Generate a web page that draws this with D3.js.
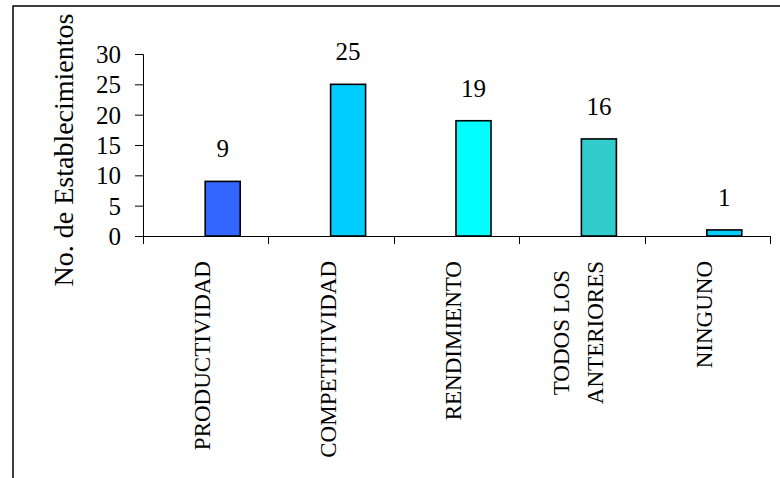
<!DOCTYPE html>
<html>
<head>
<meta charset="utf-8">
<script src="https://cdn.jsdelivr.net/npm/d3@7"></script>
</head>
<body style="margin:0;background:#fff">
<svg id="chart" width="780" height="478" style="display:block"></svg>
<script>
const categories = ["PRODUCTIVIDAD", "COMPETITIVIDAD", "RENDIMIENTO", "TODOS LOS\nANTERIORES", "NINGUNO"];
const values = [9, 25, 19, 16, 1];
const barColors = ["#3366FF", "#00CCFF", "#00FFFF", "#33CCCC", "#00CCFF"];
const yTicks = [0, 5, 10, 15, 20, 25, 30];
const yTitle = "No. de Establecimientos";

const FONT = '"Liberation Serif"';
const svg = d3.select("#chart");

// outer frame (extends past the window on right and bottom)
svg.append("rect")
  .attr("x", 13).attr("y", 6)
  .attr("width", 800).attr("height", 500)
  .attr("fill", "none").attr("stroke", "#000").attr("stroke-width", 1.5);

const x = d3.scaleBand().domain(categories).range([143, 770]).padding(0);
const y = d3.scaleLinear().domain([0, 30]).range([236, 54]);

// y axis
const yAxis = d3.axisLeft(y).tickValues(yTicks).tickSize(8).tickPadding(14);
const gy = svg.append("g").attr("transform", "translate(143,0)").call(yAxis);
gy.attr("font-family", null).attr("font-size", null);
gy.select(".domain").attr("stroke", "#000").attr("stroke-width", 1).attr("d", "M-8,54.5H0.5V236.5");
gy.selectAll(".tick line").attr("stroke", "#000").attr("stroke-width", 1);
gy.selectAll(".tick text").style("font-family", FONT).style("font-size", "25px").attr("fill", "#000").attr("dy", "0.34em");

// x axis line + ticks at band boundaries
const bounds = categories.map(c => x(c)).concat([x.range()[1]]);
svg.append("line")
  .attr("x1", 143).attr("x2", 770).attr("y1", y(0) + 0.5).attr("y2", y(0) + 0.5)
  .attr("stroke", "#000").attr("stroke-width", 1);
svg.selectAll("line.xtick").data(bounds).join("line")
  .attr("class", "xtick")
  .attr("x1", d => Math.round(d) + 0.5).attr("x2", d => Math.round(d) + 0.5)
  .attr("y1", y(0)).attr("y2", y(0) + 8)
  .attr("stroke", "#000").attr("stroke-width", 1);

// bars: start at the category center
const barW = 35;
svg.selectAll("rect.bar").data(values).join("rect")
  .attr("class", "bar")
  .attr("x", (d, i) => x(categories[i]) + x.bandwidth() / 2 - 0.5)
  .attr("y", d => y(d))
  .attr("width", barW)
  .attr("height", d => y(0) - y(d))
  .attr("fill", (d, i) => barColors[i])
  .attr("stroke", "#000").attr("stroke-width", 1.6);

// value labels
svg.selectAll("text.val").data(values).join("text")
  .attr("class", "val")
  .attr("x", (d, i) => x(categories[i]) + x.bandwidth() / 2 - 0.5 + barW / 2)
  .attr("y", d => y(d) - 24)
  .attr("text-anchor", "middle")
  .style("font-family", FONT).style("font-size", "25px")
  .text(d => d);

// category labels (rotated)
const lineH = 34;
categories.forEach(c => {
  const lines = c.split("\n");
  const cx = x(c) + x.bandwidth() / 2;
  const g = svg.append("g").attr("transform", `translate(${cx},261) rotate(-90)`);
  const n = lines.length;
  const ts = lines.map((ln, i) =>
    g.append("text")
      .attr("x", 0)
      .attr("y", -3 + (i - (n - 1) / 2) * lineH + 7.5)
      .attr("text-anchor", "end")
      .style("font-family", FONT).style("font-size", "23px")
      .text(ln));
  if (n > 1) {
    const maxL = d3.max(ts, t => t.node().getComputedTextLength());
    ts.forEach(t => t.attr("text-anchor", "middle").attr("x", -maxL / 2));
  }
});

// y axis title
svg.append("text")
  .attr("transform", "translate(73,150) rotate(-90)")
  .attr("text-anchor", "middle")
  .style("font-family", FONT).style("font-size", "28px")
  .text(yTitle);
</script>
</body>
</html>
